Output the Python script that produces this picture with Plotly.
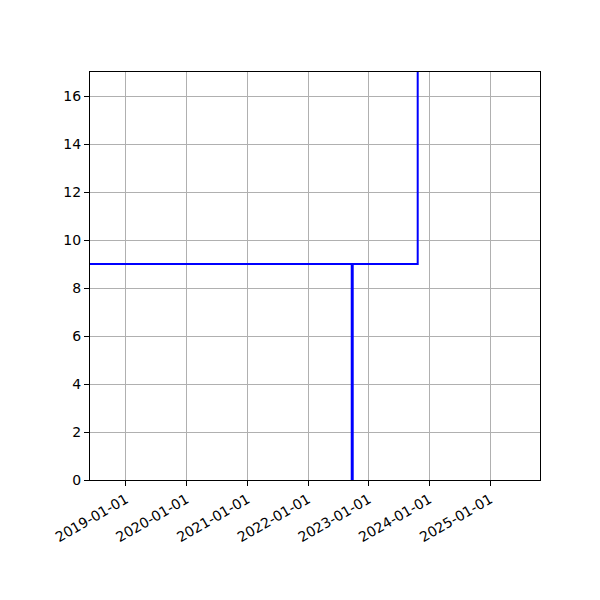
import plotly.graph_objects as go

# Step line: flat at 9, then jumps up past the top of the axes
step_dates = ['2018-01-01', '2023-10-23', '2023-10-23']
step_values = [9, 9, 20]

# Vertical marker line
mark_dates = ['2022-09-24', '2022-09-24']
mark_values = [0, 9]

tick_dates = ['2019-01-01', '2020-01-01', '2021-01-01', '2022-01-01',
              '2023-01-01', '2024-01-01', '2025-01-01']

fig = go.Figure()
fig.add_trace(go.Scatter(x=step_dates, y=step_values, mode='lines',
                         line=dict(color='blue', width=2), showlegend=False))
fig.add_trace(go.Scatter(x=mark_dates, y=mark_values, mode='lines',
                         line=dict(color='blue', width=3), showlegend=False))

axis_style = dict(showline=True, linecolor='black', linewidth=1, mirror=True,
                  ticks='outside', ticklen=5, tickcolor='black',
                  showgrid=True, gridcolor='#b0b0b0', gridwidth=1, zeroline=False,
                  tickfont=dict(family='DejaVu Sans', size=14, color='black'))

fig.update_xaxes(type='date', range=['2018-05-30', '2025-10-28'],
                 tickvals=tick_dates, ticktext=tick_dates, tickangle=-30,
                 **axis_style)
fig.update_yaxes(range=[0, 17], tickvals=list(range(0, 17, 2)), **axis_style)

fig.update_layout(width=600, height=600,
                  margin=dict(l=82, r=68, t=64, b=128),
                  plot_bgcolor='white', paper_bgcolor='white')

fig.write_html("out.html")
